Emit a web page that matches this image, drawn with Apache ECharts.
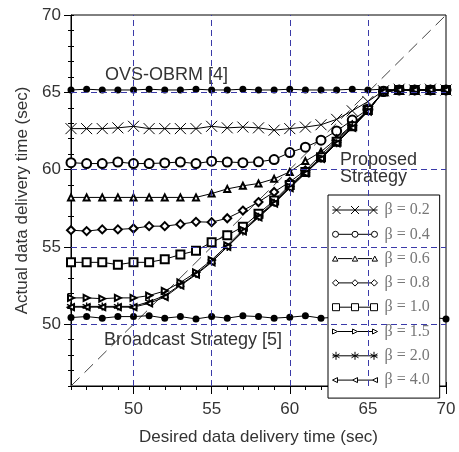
<!DOCTYPE html>
<html>
<head>
<meta charset="utf-8">
<script src="https://cdn.jsdelivr.net/npm/echarts@6/dist/echarts.min.js"></script>
<style>
  html, body { margin: 0; padding: 0; background: #fff; }
  #main { width: 459px; height: 452px; }
</style>
</head>
<body>
<div id="main"></div>
<script>
// desired delivery time (x)
const xs = [46, 47, 48, 49, 50, 51, 52, 53, 54, 55, 56, 57, 58, 59, 60, 61, 62, 63, 64, 65, 66, 67, 68, 69, 70]

// reference strategies
const ovsObrm = [65.15, 65.2, 65.15, 65.15, 65.15, 65.2, 65.15, 65.15, 65.2, 65.15, 65.15, 65.2, 65.15, 65.15, 65.2, 65.15, 65.15, 65.15, 65.2, 65.15, 65.2, 65.15, 65.2, 65.15, 65.2]
const broadcast = [50.43, 50.49, 50.39, 50.49, 50.49, 50.55, 50.39, 50.49, 50.34, 50.49, 50.39, 50.54, 50.49, 50.39, 50.45, 50.54, 50.39, 50.45, 50.45, 50.45, 50.45, 50.45, 50.45, 50.45, 50.34]

// proposed strategy, one list per beta
const beta02 = [62.65, 62.65, 62.65, 62.7, 62.8, 62.65, 62.65, 62.65, 62.65, 62.8, 62.7, 62.75, 62.7, 62.55, 62.65, 62.75, 62.9, 63.25, 63.8, 64.4, 65.1, 65.2, 65.15, 65.2, 65.15]
const beta04 = [60.45, 60.39, 60.39, 60.49, 60.39, 60.39, 60.43, 60.49, 60.39, 60.54, 60.49, 60.45, 60.5, 60.65, 61.1, 61.45, 61.9, 62.5, 63.2, 63.9, 65.05, 65.15, 65.15, 65.15, 65.15]
const beta06 = [58.2, 58.2, 58.2, 58.2, 58.2, 58.2, 58.2, 58.2, 58.2, 58.45, 58.75, 58.95, 59.1, 59.4, 59.85, 60.55, 61.15, 62.0, 62.9, 63.85, 65.05, 65.15, 65.15, 65.15, 65.15]
const beta08 = [56.08, 56.02, 56.13, 56.13, 56.19, 56.34, 56.34, 56.47, 56.62, 56.6, 56.85, 57.35, 57.9, 58.55, 59.2, 59.95, 60.95, 61.9, 62.85, 63.85, 65.05, 65.15, 65.15, 65.15, 65.15]
const beta10 = [54.0, 54.0, 54.0, 53.85, 54.0, 54.0, 54.2, 54.5, 54.75, 55.3, 55.75, 56.3, 57.15, 58.0, 59.0, 59.85, 60.8, 61.8, 62.8, 63.85, 65.05, 65.15, 65.15, 65.15, 65.15]
const beta15 = [51.7, 51.7, 51.65, 51.7, 51.7, 51.85, 52.15, 52.7, 53.35, 54.15, 55.1, 56.1, 57.0, 57.9, 58.9, 59.8, 60.75, 61.75, 62.75, 63.8, 65.05, 65.15, 65.15, 65.15, 65.15]
const beta20 = [51.15, 51.15, 51.15, 51.15, 51.15, 51.45, 51.85, 52.55, 53.25, 54.05, 55.0, 56.0, 56.95, 57.85, 58.85, 59.8, 60.7, 61.7, 62.75, 63.8, 65.05, 65.15, 65.15, 65.15, 65.15]
const beta40 = [51.1, 51.1, 51.1, 51.1, 51.1, 51.35, 51.75, 52.5, 53.2, 54.0, 55.0, 56.0, 56.9, 57.8, 58.8, 59.75, 60.7, 61.7, 62.7, 63.75, 65.05, 65.15, 65.15, 65.15, 65.15]

const betaNames = ['β = 0.2', 'β = 0.4', 'β = 0.6', 'β = 0.8', 'β = 1.0', 'β = 1.5', 'β = 2.0', 'β = 4.0']

// y = x reference line, grid lines and major ticks
const diagX = [46, 70]
const diagY = [46, 70]
const gridX = [50, 55, 60, 65]
const gridY = [50, 55, 60, 65]
const majorTicks = [50, 55, 60, 65, 70]

const chart = echarts.init(document.getElementById('main'))

const FONT = '"Liberation Sans", Arial, sans-serif'
const CROSS = 'path://M0,0L10,10M10,0L0,10'
const STAR = 'path://M5,0L5,10M0.7,2.5L9.3,7.5M0.7,7.5L9.3,2.5'
const GRID_BLUE = '#3a3aa8'

// legend icons: a line with three small markers, like the original figure
const ICON_W = 45
function legendIcon(half, open, marker) {
  const cs = [half, ICON_W / 2, ICON_W - half]
  let d = ''
  if (open) {
    d += `M${cs[0] + half},5L${cs[1] - half},5M${cs[1] + half},5L${cs[2] - half},5`
  } else {
    d += `M0,5L${ICON_W},5`
  }
  cs.forEach(c => { d += marker(c) })
  return 'path://' + d
}
const legendIcons = [
  legendIcon(4, false, c => `M${c - 4},1L${c + 4},9M${c + 4},1L${c - 4},9`),
  legendIcon(3, true, c => `M${c + 3},5A3,3 0 1 1 ${c - 3},5A3,3 0 1 1 ${c + 3},5`),
  legendIcon(2.7, true, c => `M${c},2.5L${c + 2.7},7.5L${c - 2.7},7.5Z`),
  legendIcon(3.2, true, c => `M${c},1.8L${c + 3.2},5L${c},8.2L${c - 3.2},5Z`),
  legendIcon(3.5, true, c => `M${c - 3.5},1.5L${c + 3.5},1.5L${c + 3.5},8.5L${c - 3.5},8.5Z`),
  legendIcon(2.5, true, c => `M${c - 2.5},2.5L${c + 2.5},5L${c - 2.5},7.5Z`),
  legendIcon(3.5, false, c => `M${c},1L${c},9M${c - 3.5},3L${c + 3.5},7M${c - 3.5},7L${c + 3.5},3`),
  legendIcon(2.5, true, c => `M${c + 2.5},2.5L${c - 2.5},5L${c + 2.5},7.5Z`)
]

function pairs(ys) {
  return xs.map((x, i) => [x, ys[i]])
}

/** one curve of the proposed strategy */
function curve(name, ys, symbol, size, opts) {
  opts = opts || {}
  return {
    name: name,
    type: 'line',
    data: pairs(ys),
    symbol: symbol,
    symbolSize: size,
    symbolRotate: opts.rotate || 0,
    showAllSymbol: true,
    lineStyle: { color: '#000', width: 1 },
    itemStyle: {
      color: opts.fill || '#000',
      borderColor: '#000',
      borderWidth: opts.border || 1
    },
    emphasis: { disabled: true },
    z: 3
  }
}

/** helper axis that only draws a set of ticks */
function tickAxis(pos, inside, length, custom) {
  const tick = {
    show: true,
    inside: inside,
    length: length,
    lineStyle: { color: '#000' }
  }
  if (custom) tick.customValues = majorTicks
  return {
    type: 'value',
    position: pos,
    min: 46,
    max: 70,
    interval: custom ? undefined : 1,
    axisLine: { show: false },
    axisLabel: { show: false },
    splitLine: { show: false },
    axisTick: tick
  }
}

function mainAxis(pos, name, nameGap, margin, tickLen) {
  return {
    type: 'value',
    position: pos,
    min: 46,
    max: 70,
    interval: 1,
    name: name,
    nameLocation: 'middle',
    nameGap: nameGap,
    nameTextStyle: { color: '#333', fontFamily: FONT, fontSize: 17 },
    axisLine: { show: true, lineStyle: { color: '#000', width: 1 } },
    axisTick: { show: true, inside: false, length: tickLen, lineStyle: { color: '#000' } },
    axisLabel: {
      color: '#333',
      fontFamily: FONT,
      fontSize: 17,
      margin: margin,
      formatter: v => (v % 5 === 0 ? String(v) : '')
    },
    splitLine: { show: false }
  }
}

const gridLine = { color: GRID_BLUE, type: [6, 4], width: 1 }

const option = {
  backgroundColor: '#fff',
  animation: false,
  grid: {
    left: 71,
    right: 13,
    top: 15,
    bottom: 66,
    show: true,
    borderColor: '#000',
    borderWidth: 1,
    backgroundColor: 'transparent'
  },
  xAxis: [
    mainAxis('bottom', 'Desired data delivery time (sec)', 43, 15, 4),
    tickAxis('bottom', true, 4, true),
    tickAxis('bottom', false, 8, true)
  ],
  yAxis: [
    mainAxis('left', 'Actual data delivery time (sec)', 40, 10, 3),
    tickAxis('left', true, 3, false),
    tickAxis('left', true, 3, true),
    tickAxis('left', false, 7, true)
  ],
  legend: {
    data: betaNames.map((n, i) => ({
      name: n,
      icon: legendIcons[i],
      itemStyle: { color: 'none', borderColor: '#000', borderWidth: 1 }
    })),
    orient: 'vertical',
    left: 328,
    top: 195,
    width: 115,
    padding: [7, 10, 10, 2],
    itemWidth: ICON_W,
    itemHeight: 10,
    itemGap: 8.3,
    symbolKeepAspect: true,
    backgroundColor: '#fff',
    borderColor: '#000',
    borderWidth: 1,
    borderRadius: 0,
    selectedMode: false,
    textStyle: {
      color: '#777',
      fontFamily: '"Liberation Serif", "DejaVu Serif", serif',
      fontSize: 16,
      lineHeight: 14,
      padding: [0, 0, 0, 2]
    }
  },
  graphic: [
    {
      type: 'text', left: 105, top: 66,
      style: { text: 'OVS-OBRM [4]', fill: '#333', font: '18px ' + FONT }
    },
    {
      type: 'text', left: 340, top: 151,
      style: { text: 'Proposed\nStrategy', fill: '#333', font: '18px ' + FONT, lineHeight: 17 }
    },
    {
      type: 'text', left: 104, top: 331,
      style: { text: 'Broadcast Strategy [5]', fill: '#333', font: '18px ' + FONT }
    }
  ],
  series: [
    {
      name: 'grid',
      type: 'line',
      data: [],
      silent: true,
      z: 1,
      markLine: {
        silent: true,
        symbol: 'none',
        animation: false,
        label: { show: false },
        lineStyle: gridLine,
        emphasis: { disabled: true },
        data: gridX.map(v => ({ xAxis: v, lineStyle: gridLine }))
          .concat(gridY.map(v => ({ yAxis: v, lineStyle: gridLine })))
      }
    },
    {
      name: 'diag',
      type: 'line',
      data: diagX.map((x, i) => [x, diagY[i]]),
      symbol: 'none',
      lineStyle: { color: '#444', width: 1, type: [12, 7] },
      emphasis: { disabled: true },
      silent: true,
      z: 1
    },
    {
      name: 'OVS-OBRM',
      type: 'line',
      data: pairs(ovsObrm),
      symbol: 'circle',
      symbolSize: 7,
      showAllSymbol: true,
      lineStyle: { color: '#000', width: 1 },
      itemStyle: { color: '#000' },
      emphasis: { disabled: true },
      z: 2
    },
    {
      name: 'Broadcast',
      type: 'line',
      data: pairs(broadcast),
      symbol: 'circle',
      symbolSize: 7,
      showAllSymbol: true,
      lineStyle: { color: '#000', width: 1 },
      itemStyle: { color: '#000' },
      emphasis: { disabled: true },
      z: 2
    },
    curve(betaNames[0], beta02, CROSS, 11, { fill: 'none' }),
    curve(betaNames[1], beta04, 'emptyCircle', 9),
    curve(betaNames[2], beta06, 'emptyTriangle', 6),
    curve(betaNames[3], beta08, 'emptyDiamond', 8),
    curve(betaNames[4], beta10, 'emptyRect', 8),
    curve(betaNames[5], beta15, 'emptyTriangle', 6, { rotate: -90 }),
    curve(betaNames[6], beta20, STAR, 8, { fill: 'none', border: 1.4 }),
    curve(betaNames[7], beta40, 'emptyTriangle', 6, { rotate: 90 })
  ]
}

chart.setOption(option)
</script>
</body>
</html>
